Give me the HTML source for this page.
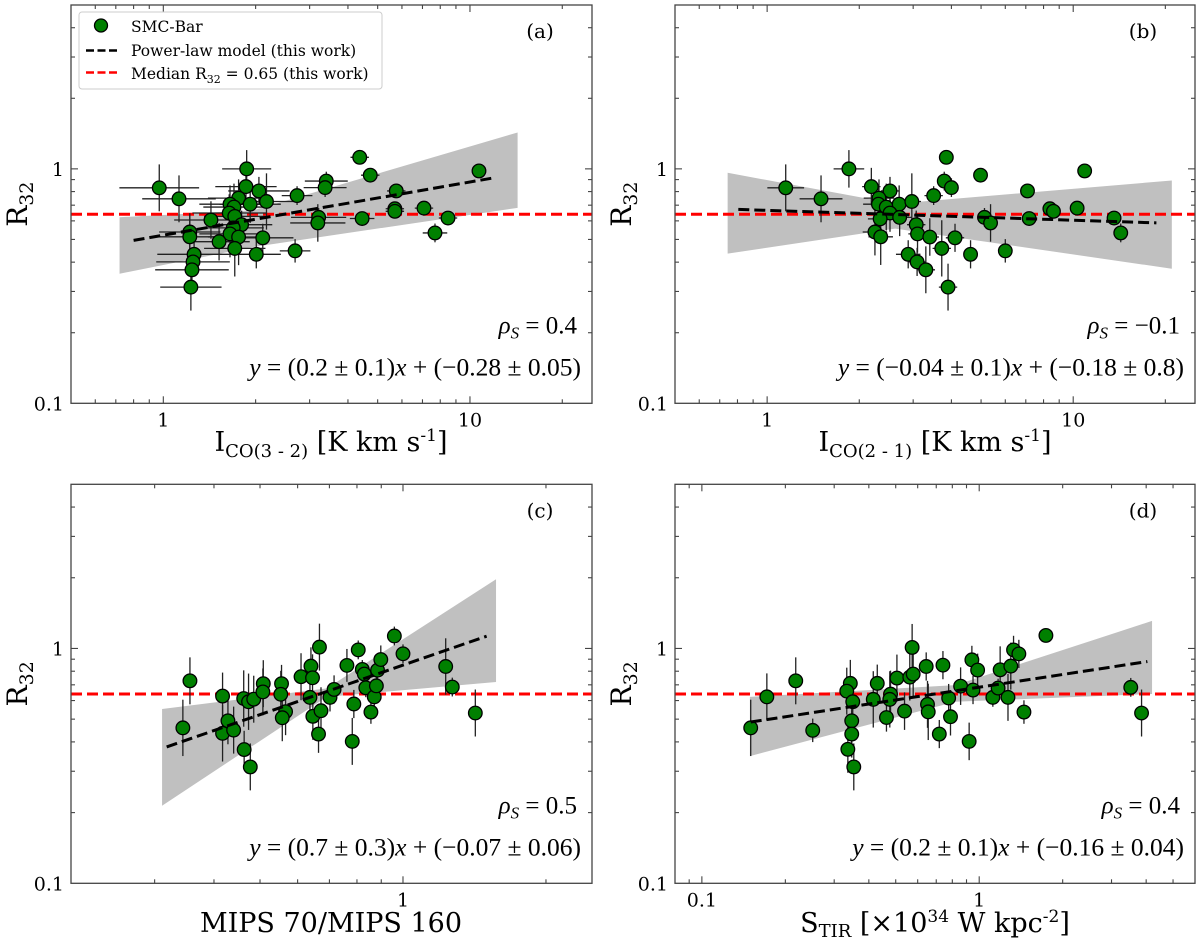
<!DOCTYPE html>
<html><head><meta charset="utf-8"><title>R32 scatter panels</title>
<style>
html,body{margin:0;padding:0;background:#fff;}
svg{display:block;font-family:"DejaVu Serif","Liberation Serif",serif;}
</style></head>
<body>
<svg id="fig" width="1200" height="947" viewBox="0 0 1200 947" xmlns="http://www.w3.org/2000/svg"></svg>
<script>
// ---------- data ----------
const medianR = 0.64;
// panel (a)
const aX = [0.97,1.125,1.87,1.86,2.05,1.76,1.65,1.70,1.92,2.17,1.64,1.71,1.43,1.80,1.69,1.22,1.22,1.65,1.76,1.52,2.11,1.71,2.01,1.26,1.25,1.24,1.23,2.73,2.69,3.40,3.37,3.21,3.19,4.37,4.73,4.45,5.75,5.69,5.69,7.08,8.48,7.69,10.7];
const aR = [0.83,0.745,1.0,0.84,0.805,0.75,0.707,0.687,0.707,0.726,0.648,0.627,0.605,0.578,0.56,0.538,0.513,0.528,0.512,0.489,0.508,0.458,0.432,0.432,0.401,0.371,0.313,0.769,0.447,0.887,0.832,0.621,0.588,1.12,0.94,0.614,0.805,0.676,0.659,0.68,0.617,0.533,0.98];
const aXerr = [0.13,0.12,0.08,0.1,0.1,0.1,0.1,0.1,0.1,0.09,0.12,0.1,0.12,0.1,0.1,0.1,0.12,0.1,0.1,0.1,0.1,0.1,0.08,0.12,0.12,0.12,0.1,0.05,0.05,0.07,0.07,0.09,0.09,0.03,0.03,0.04,0.03,0.03,0.03,0.03,0.03,0.04,0.01];
const aYerr = [0.1,0.1,0.08,0.08,0.06,0.08,0.08,0.1,0.08,0.12,0.08,0.08,0.08,0.06,0.08,0.08,0.1,0.1,0.12,0.08,0.06,0.12,0.06,0.06,0.06,0.06,0.1,0.04,0.05,0.04,0.04,0.04,0.08,0.02,0.02,0.03,0.02,0.03,0.03,0.02,0.02,0.04,0.02];
const aFit = [0.227,-0.283];
const aBandX = [0.72,1.96,14.3];
const aBandLo = [0.357,0.464,0.682];
const aBandHi = [0.622,0.665,1.43];
// panel (b)
const bX = [1.15,1.50,1.85,2.19,2.52,2.32,2.31,2.45,2.70,2.97,2.52,2.34,2.71,2.25,2.35,3.07,3.10,3.40,2.89,4.11,3.72,4.62,3.09,3.30,3.90,3.50,6.0,3.79,4.0,5.13,5.37,3.85,4.98,7.18,7.09,8.39,8.62,10.3,13.6,14.3,10.9];
const bR = [0.83,0.745,1.0,0.84,0.805,0.75,0.707,0.687,0.707,0.726,0.648,0.612,0.621,0.538,0.513,0.578,0.528,0.512,0.432,0.508,0.458,0.432,0.401,0.371,0.313,0.769,0.447,0.887,0.832,0.621,0.588,1.12,0.94,0.614,0.805,0.676,0.659,0.68,0.617,0.533,0.98];
const bXerr = [0.06,0.07,0.05,0.03,0.03,0.05,0.05,0.03,0.03,0.03,0.03,0.04,0.04,0.04,0.04,0.03,0.03,0.03,0.04,0.03,0.03,0.02,0.03,0.03,0.03,0.03,0.01,0.02,0.02,0.02,0.02,0.01,0.01,0.01,0.01,0.01,0.01,0.01,0.01,0.01,0.01];
const bYerr = [0.1,0.1,0.08,0.08,0.06,0.08,0.08,0.1,0.08,0.12,0.08,0.08,0.08,0.1,0.12,0.06,0.08,0.08,0.06,0.06,0.12,0.06,0.06,0.1,0.1,0.04,0.05,0.04,0.04,0.04,0.08,0.03,0.02,0.03,0.02,0.03,0.03,0.02,0.02,0.04,0.02];
const bFit = [-0.042,-0.177];
const bBandX = [0.743,2.62,21];
const bBandLo = [0.435,0.556,0.375];
const bBandHi = [0.962,0.71,0.892];
// panel (c)
const cX = [0.344,0.356,0.417,0.428,0.417,0.44,0.463,0.477,0.462,0.473,0.485,0.508,0.507,0.555,0.553,0.566,0.557,0.61,0.64,0.645,0.667,0.637,0.646,0.672,0.664,0.702,0.716,0.762,0.805,0.821,0.829,0.835,0.788,0.782,0.856,0.87,0.879,0.884,0.898,0.959,1.0,1.23,1.27,1.42];
const cR = [0.459,0.728,0.627,0.492,0.435,0.449,0.371,0.313,0.612,0.593,0.608,0.708,0.653,0.708,0.638,0.538,0.507,0.758,0.841,0.75,1.013,0.619,0.514,0.543,0.432,0.619,0.669,0.847,0.986,0.814,0.778,0.68,0.58,0.402,0.536,0.622,0.693,0.808,0.897,1.13,0.949,0.838,0.685,0.531];
const cYerr = [0.12,0.1,0.1,0.1,0.12,0.1,0.08,0.1,0.12,0.12,0.1,0.1,0.1,0.08,0.1,0.1,0.1,0.1,0.08,0.1,0.1,0.08,0.1,0.1,0.08,0.06,0.06,0.07,0.04,0.04,0.04,0.04,0.06,0.1,0.05,0.07,0.07,0.07,0.06,0.04,0.04,0.12,0.04,0.1];
const cFit = [0.7,-0.071];
const cBandX = [0.311,0.691,1.57];
const cBandLo = [0.214,0.622,0.72];
const cBandHi = [0.552,0.676,1.97];
// panel (d)
const dX = [0.150,0.1715,0.218,0.251,0.343,0.333,0.35,0.347,0.347,0.336,0.353,0.415,0.429,0.463,0.479,0.476,0.505,0.538,0.562,0.578,0.573,0.644,0.651,0.655,0.718,0.74,0.776,0.788,0.857,0.941,0.95,0.987,0.92,1.12,1.17,1.19,1.27,1.30,1.33,1.39,1.45,1.74,3.52,3.85];
const dR = [0.459,0.622,0.728,0.448,0.71,0.658,0.593,0.492,0.432,0.372,0.313,0.607,0.71,0.508,0.639,0.607,0.748,0.541,0.755,0.778,1.01,0.838,0.578,0.537,0.432,0.849,0.615,0.512,0.691,0.894,0.665,0.809,0.402,0.619,0.678,0.811,0.619,0.841,0.986,0.948,0.536,1.136,0.683,0.531];
const dYerr = [0.12,0.1,0.1,0.05,0.1,0.1,0.1,0.1,0.1,0.1,0.1,0.12,0.08,0.06,0.1,0.12,0.1,0.08,0.1,0.1,0.1,0.06,0.1,0.12,0.06,0.06,0.06,0.08,0.08,0.06,0.06,0.07,0.08,0.04,0.04,0.1,0.1,0.1,0.06,0.06,0.05,0.03,0.04,0.1];
const dFit = [0.18,-0.165];
const dBandX = [0.149,0.82,4.2];
const dBandLo = [0.348,0.593,0.64];
const dBandHi = [0.622,0.698,1.31];

// ---------- drawing ----------
const NS = "http://www.w3.org/2000/svg";
const svg = document.getElementById("fig");
function mk(tag, attrs, parent){
  const e = document.createElementNS(NS, tag);
  for (const k in attrs) e.setAttribute(k, attrs[k]);
  (parent||svg).appendChild(e);
  return e;
}
const L10 = Math.log10;

const panels = [
  {id:"a", left:71, top:5, right:592, bottom:403.3, xmin:0.5, xmax:25, X:aX, R:aR, xe:aXerr, ye:aYerr, fit:aFit, bx:aBandX, blo:aBandLo, bhi:aBandHi, fitX:[0.8,12.0], xlabels:[1,10], rho:"0.4", eq:["0.2 ± 0.1","−0.28 ± 0.05"]},
  {id:"b", left:675, top:5, right:1195, bottom:403.3, xmin:0.5, xmax:25, X:bX, R:bR, xe:bXerr, ye:bYerr, fit:bFit, bx:bBandX, blo:bBandLo, bhi:bBandHi, fitX:[0.805,18.7], xlabels:[1,10], rho:"−0.1", eq:["−0.04 ± 0.1","−0.18 ± 0.8"]},
  {id:"c", left:71, top:484.3, right:592, bottom:883.3, xmin:0.2, xmax:2.5, X:cX, R:cR, xe:null, ye:cYerr, fit:cFit, bx:cBandX, blo:cBandLo, bhi:cBandHi, fitX:[0.318,1.5], xlabels:[1], rho:"0.5", eq:["0.7 ± 0.3","−0.07 ± 0.06"]},
  {id:"d", left:675, top:484.3, right:1195, bottom:883.3, xmin:0.08, xmax:6, X:dX, R:dR, xe:null, ye:dYerr, fit:dFit, bx:dBandX, blo:dBandLo, bhi:dBandHi, fitX:[0.15,4.04], xlabels:[0.1,1], rho:"0.4", eq:["0.2 ± 0.1","−0.16 ± 0.04"]}
];
const YMIN = 0.1, YMAX = 5;

panels.forEach(p => {
  const xs = v => p.left + (L10(v)-L10(p.xmin))/(L10(p.xmax)-L10(p.xmin))*(p.right-p.left);
  const ys = v => p.bottom - (L10(v)-L10(YMIN))/(L10(YMAX)-L10(YMIN))*(p.bottom-p.top);
  const g = mk("g", {});
  
  
  const clipId = "clip" + p.id;
  const cp = mk("clipPath", {id: clipId}, g);
  mk("rect", {x:p.left, y:p.top, width:p.right-p.left, height:p.bottom-p.top}, cp);
  const plot = mk("g", {"clip-path":"url(#"+clipId+")"}, g);
  
  

  let pts = [];
  for (let i=0;i<p.bx.length;i++) pts.push(xs(p.bx[i])+","+ys(p.bhi[i]));
  for (let i=p.bx.length-1;i>=0;i--) pts.push(xs(p.bx[i])+","+ys(p.blo[i]));
  const band = mk("polygon", {points:pts.join(" "), fill:"#c0c0c0", stroke:"none"}, plot);
  
  

  const med = mk("line", {x1:p.left, x2:p.right, y1:ys(medianR), y2:ys(medianR), stroke:"#ff0000", "stroke-width":3, "stroke-dasharray":"11,5"}, plot);
  
  

  for (let i=0;i<p.X.length;i++){
    const cx = xs(p.X[i]), cy = ys(p.R[i]);
    const ye = p.ye[i];
    const ey = mk("line", {x1:cx, x2:cx, y1:ys(p.R[i]*Math.pow(10,ye)), y2:ys(p.R[i]/Math.pow(10,ye)), stroke:"#222", "stroke-width":1.3}, plot);
    
    
    if (p.xe){
      const xe = p.xe[i];
      const ex = mk("line", {y1:cy, y2:cy, x1:xs(p.X[i]/Math.pow(10,xe)), x2:xs(p.X[i]*Math.pow(10,xe)), stroke:"#222", "stroke-width":1.3}, plot);
      
      
    }
  }
  for (let i=0;i<p.X.length;i++){
    const c = mk("circle", {cx:xs(p.X[i]), cy:ys(p.R[i]), r:6.8, fill:"#008000", stroke:"#000", "stroke-width":1.3}, plot);
    
    
  }
  const f0 = p.fitX[0], f1 = p.fitX[1];
  const fy = x => Math.pow(10, p.fit[0]*L10(x) + p.fit[1]);
  const fl = mk("line", {x1:xs(f0), y1:ys(fy(f0)), x2:xs(f1), y2:ys(fy(f1)), stroke:"#000", "stroke-width":3, "stroke-dasharray":"11,5"}, plot);
  
  

  const fr = mk("rect", {x:p.left, y:p.top, width:p.right-p.left, height:p.bottom-p.top, fill:"none", stroke:"#444", "stroke-width":1.3}, g);
  
  

  const tg = mk("g", {stroke:"#444", "stroke-width":1.1}, g);
  
  
  for (let e=-2;e<=2;e++) for (let k=1;k<10;k++){
    const v = k*Math.pow(10,e);
    const len = k===1?7:4;
    if (v>=p.xmin*1.0001 && v<=p.xmax*0.9999){
      const x = xs(v);
      mk("line",{x1:x,x2:x,y1:p.bottom,y2:p.bottom-len},tg);
      mk("line",{x1:x,x2:x,y1:p.top,y2:p.top+len},tg);
    }
    if (v>=YMIN*1.0001 && v<=YMAX*0.9999){
      const y = ys(v);
      mk("line",{x1:p.left,x2:p.left+len,y1:y,y2:y},tg);
      mk("line",{x1:p.right,x2:p.right-len,y1:y,y2:y},tg);
    }
  }
  [0.1,1].forEach(v=>{
    const t = mk("text",{x:p.left-7, y:ys(v)+7, "text-anchor":"end", "font-size":19, fill:"#000"}, g);
    t.textContent = String(v);
    
    
  });
  p.xlabels.forEach(v=>{
    const t = mk("text",{x:xs(v), y:p.bottom+23, "text-anchor":"middle", "font-size":19, fill:"#000"}, g);
    t.textContent = String(v);
    
    
  });
  const yt = mk("text",{x:0,y:0,"font-size":28,fill:"#000",transform:"translate("+(p.left-44)+","+((p.top+p.bottom)/2)+") rotate(-90)","text-anchor":"middle"}, g);
  yt.innerHTML = 'R<tspan font-size="19" dy="6">32</tspan>';
  
  
  const pl = mk("text",{x:p.right-52, y:p.top+33, "text-anchor":"middle","font-size":20,fill:"#000"}, g);
  pl.textContent = "(" + p.id + ")";
  
  
  const rt = mk("text",{x:p.right-15, y:p.bottom-70, "text-anchor":"end","font-size":25,"font-family":"Liberation Serif, serif",fill:"#000"}, g);
  rt.innerHTML = '<tspan font-style="italic">ρ</tspan><tspan font-style="italic" font-size="17" dy="5">S</tspan><tspan dy="-5"> = ' + p.rho + '</tspan>';
  
  
  const et = mk("text",{x:p.right-11, y:p.bottom-28, "text-anchor":"end","font-size":25.5,"font-family":"Liberation Serif, serif",fill:"#000"}, g);
  et.innerHTML = '<tspan font-style="italic">y</tspan> = (' + p.eq[0] + ')<tspan font-style="italic">x</tspan> + (' + p.eq[1] + ')';
  
  
});

function xTitle(x, y, html, name){
  const t = mk("text",{x:x,y:y,"text-anchor":"middle","font-size":27,fill:"#000"});
  t.innerHTML = html;
  
  
}
xTitle(331, 451, 'I<tspan font-size="18" dy="6">CO(3 - 2)</tspan><tspan dy="-6"> [K km s</tspan><tspan font-size="17" dy="-10">-1</tspan><tspan dy="10">]</tspan>', 'x-axis-title-a');
xTitle(935, 451, 'I<tspan font-size="18" dy="6">CO(2 - 1)</tspan><tspan dy="-6"> [K km s</tspan><tspan font-size="17" dy="-10">-1</tspan><tspan dy="10">]</tspan>', 'x-axis-title-b');
xTitle(331, 932, 'MIPS 70/MIPS 160', 'x-axis-title-c');
xTitle(935, 932, 'S<tspan font-size="18" dy="5">TIR</tspan><tspan dy="-5"> [×10</tspan><tspan font-size="17" dy="-10">34</tspan><tspan dy="10"> W kpc</tspan><tspan font-size="17" dy="-10">-2</tspan><tspan dy="10">]</tspan>', 'x-axis-title-d');

const lg = mk("g", {});


mk("rect",{x:79,y:12,width:303,height:77,rx:3,fill:"#fff","fill-opacity":0.85,stroke:"#ccc","stroke-width":1},lg);
const lm = mk("circle",{cx:101,cy:25.5,r:6.5,fill:"#008000",stroke:"#000","stroke-width":1.3},lg);


const ll1 = mk("line",{x1:86,x2:117,y1:50.5,y2:50.5,stroke:"#000","stroke-width":2.5,"stroke-dasharray":"8,3.5"},lg);


const ll2 = mk("line",{x1:86,x2:117,y1:72.5,y2:72.5,stroke:"#ff0000","stroke-width":2.5,"stroke-dasharray":"8,3.5"},lg);


const legTexts = ['SMC-Bar','Power-law model (this work)','Median R<tspan font-size="11" dy="4">32</tspan><tspan dy="-4"> = 0.65 (this work)</tspan>'];
const legY = [32, 56, 79];
for (let i=0;i<3;i++){
  const t = mk("text",{x:131,y:legY[i],"font-size":15.5,fill:"#000"},lg);
  t.innerHTML = legTexts[i];
  
  
}
</script>
</body></html>
